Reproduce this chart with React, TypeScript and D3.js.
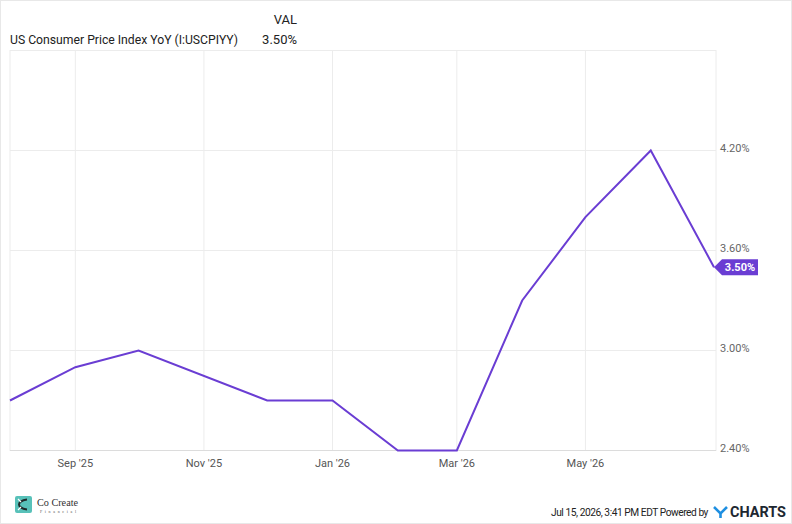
import * as d3 from "d3";

const width = 792;
const height = 524;

// monthly observations (Nov '25 was not published)
const dates = [
  "2025-08-01",
  "2025-09-01",
  "2025-10-01",
  "2025-12-01",
  "2026-01-01",
  "2026-02-01",
  "2026-03-01",
  "2026-04-01",
  "2026-05-01",
  "2026-06-01",
  "2026-07-01",
];
const cpiYoY = [2.7, 2.9, 3.0, 2.7, 2.7, 2.4, 2.4, 3.3, 3.8, 4.2, 3.5];

const yTicks = [2.4, 3.0, 3.6, 4.2];
const xTickDates = ["2025-09-01", "2025-11-01", "2026-01-01", "2026-03-01", "2026-05-01"];

const seriesName = "US Consumer Price Index YoY (I:USCPIYY)";
const footerStamp = "Jul 15, 2026, 3:41 PM EDT Powered by";

const lineColor = "#6a3dd3";
const font = "Roboto, 'Noto Sans', sans-serif";

export default function App() {
  const parse = d3.utcParse("%Y-%m-%d");
  const points = dates.map((d, i) => ({ date: parse(d)!, value: cpiYoY[i] }));

  const left = 10;
  const right = 714;
  const top = 50.5;
  const bottom = 450.5;

  const x = d3
    .scaleUtc()
    .domain([parse(dates[0])!, parse(dates[dates.length - 1])!])
    .range([left, right]);
  const y = d3.scaleLinear().domain([2.4, 4.8]).range([bottom, top]);

  const line = d3
    .line<{ date: Date; value: number }>()
    .x((d) => x(d.date))
    .y((d) => y(d.value));

  const monthFmt = d3.utcFormat("%b '%y");
  const last = points[points.length - 1];
  const lx = x(last.date);
  const ly = y(last.value);

  return (
    <div style={{ position: "fixed", left: 0, top: 0 }}>
      <svg width={width} height={height} viewBox={`0 0 ${width} ${height}`} style={{ display: "block", fontFamily: font }}>
        <rect x={0.5} y={0.5} width={width - 1} height={height - 1} fill="#fff" stroke="#e8e8e8" />

        {/* header */}
        <text x={297} y={24} textAnchor="end" fontSize={13} fill="#222">VAL</text>
        <text x={10} y={44} fontSize={13} fill="#222" textLength={228} lengthAdjust="spacingAndGlyphs">
          {seriesName}
        </text>
        <text x={297} y={44} textAnchor="end" fontSize={13} fill="#222">
          {d3.format(".2f")(last.value)}%
        </text>

        {/* plot frame */}
        <rect x={left} y={top} width={right + 2 - left} height={bottom - top} fill="none" stroke="#ececec" />

        {/* grid */}
        {yTicks.map((t) => (
          <g key={t}>
            <line x1={left} x2={right + 2} y1={y(t)} y2={y(t)} stroke="#ececec" />
            <text x={720} y={y(t) + 1} fontSize={11} fill="#666">
              {d3.format(".2f")(t)}%
            </text>
          </g>
        ))}
        {xTickDates.map((d) => {
          const dt = parse(d)!;
          return (
            <g key={d}>
              <line x1={x(dt)} x2={x(dt)} y1={top} y2={bottom} stroke="#ececec" />
              <text x={x(dt)} y={467} textAnchor="middle" fontSize={11} fill="#555">
                {monthFmt(dt)}
              </text>
            </g>
          );
        })}
        <line x1={left} x2={right + 2} y1={bottom} y2={bottom} stroke="#dcdcdc" />

        {/* series */}
        <path d={line(points) ?? ""} fill="none" stroke={lineColor} strokeWidth={2} strokeLinejoin="miter" />

        {/* last value tag */}
        <path
          d={`M${lx},${ly} L${lx + 8},${ly - 8} L${lx + 44},${ly - 8} L${lx + 44},${ly + 8} L${lx + 8},${ly + 8} Z`}
          fill={lineColor}
        />
        <text x={lx + 26} y={ly + 4} textAnchor="middle" fontSize={11} fontWeight="bold" fill="#fff">
          {d3.format(".2f")(last.value)}%
        </text>

        {/* footer: logo */}
        <rect x={15} y={496} width={17} height={17} rx={2} fill="#58c1b9" />
        <path d="M27,499.5 C21,500 19,503 19,504.5 C19,506 21,509 27,509.5" fill="none" stroke="#1f2a2a" strokeWidth={2} />
        <path d="M18,499 L21,502 M18,510 L21,507" stroke="#ffffff" strokeWidth={1.2} />
        <text x={37} y={506} fontSize={10} fontFamily="'Liberation Serif', 'DejaVu Serif', serif" fill="#333" textLength={41} lengthAdjust="spacingAndGlyphs">
          Co Create
        </text>
        <text x={40} y={513} fontSize={4} fontFamily="'Liberation Serif', serif" fill="#555" textLength={36}>
          Financial
        </text>

        {/* footer: stamp */}
        <text x={708} y={516} textAnchor="end" fontSize={10.2} letterSpacing={-0.45} fill="#222">
          {footerStamp}
        </text>
        {/* YCharts mark: Y as a path, rest as text */}
        <path d="M714,507 L720.5,513.5 L727,507 M720.5,513.5 L720.5,518" fill="none" stroke="#1e8fe1" strokeWidth={2.6} />
        <text x={730} y={517} fontSize={14} fontWeight="bold" fill="#1d2731" textLength={56} lengthAdjust="spacingAndGlyphs">
          CHARTS
        </text>
      </svg>
    </div>
  );
}
